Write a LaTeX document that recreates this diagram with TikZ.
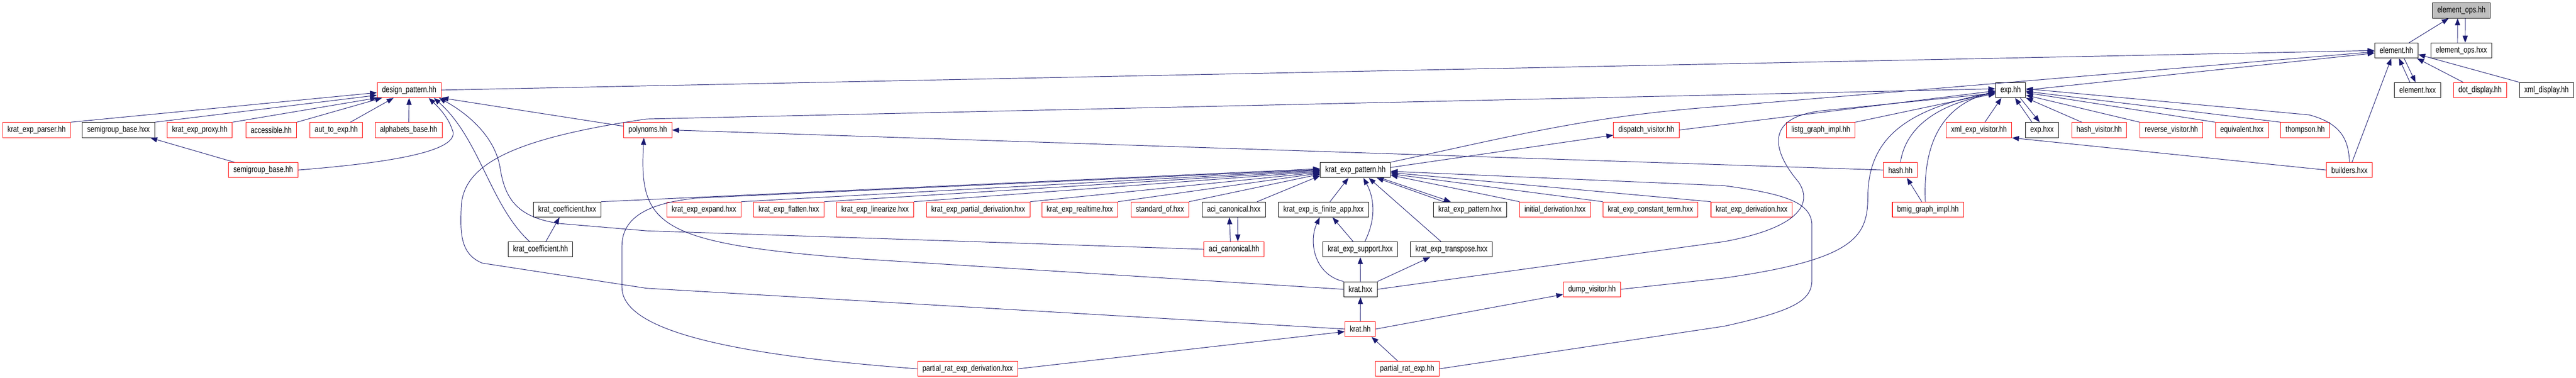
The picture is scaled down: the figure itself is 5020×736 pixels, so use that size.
\documentclass[tikz,border=0pt]{standalone}
\usepackage{fontspec}
\setmainfont{Liberation Sans}
\newfontfamily\filefont[FakeStretch=0.8]{Liberation Sans}
\usetikzlibrary{arrows.meta}
\definecolor{edgeblue}{HTML}{191970}
\tikzset{
  file/.style={draw=black, line width=0.6pt, rectangle, minimum height=0.59cm,
    inner xsep=0.19cm, inner ysep=0pt, font=\filefont\fontsize{9.4}{11}\selectfont},
  redfile/.style={file, draw=red},
  curfile/.style={file, fill=gray!50},
  inc/.style={draw=edgeblue, line width=0.55pt, -{Triangle[length=0.27cm,width=0.2cm]}}
}
\begin{document}
\begin{tikzpicture}[x=0.02cm, y=-0.02cm]
	\useasboundingbox (0,0) rectangle (5020,736);
	
	%rows 0-2
	\node[curfile] (eo) at (4796.7,20.5) {element\_ops.hh};
	\node[file] (eh) at (4670,98.5) {element.hh};
	\node[file] (eox) at (4796.5,98.5) {element\_ops.hxx};
	\node[redfile] (dp) at (797.5,175.6) {design\_pattern.hh};
	\node[file] (exp) at (3918.3,175.6) {exp.hh};
	\node[file] (ehx) at (4711.3,175.6) {element.hxx};
	\node[redfile] (dot) at (4833,175.6) {dot\_display.hh};
	\node[file] (xd) at (4962.5,175.6) {xml\_display.hh};
	
	%row 3
	\node[redfile] (kpar) at (71.3,253.5) {krat\_exp\_parser.hh};
	\node[file] (sgbx) at (231,253.5) {semigroup\_base.hxx};
	\node[redfile] (kpro) at (389.3,253.5) {krat\_exp\_proxy.hh};
	\node[redfile] (acc) at (528.5,253.5) {accessible.hh};
	\node[redfile] (a2e) at (655.3,253.5) {aut\_to\_exp.hh};
	\node[redfile] (alph) at (796.3,253.5) {alphabets\_base.hh};
	\node[redfile] (poly) at (1262.3,253.5) {polynoms.hh};
	\node[redfile] (disp) at (3208.3,253.5) {dispatch\_visitor.hh};
	\node[redfile] (lg) at (3548.3,253.5) {listg\_graph\_impl.hh};
	\node[redfile] (xev) at (3856.5,253.5) {xml\_exp\_visitor.hh};
	\node[file] (expx) at (3979.3,253.5) {exp.hxx};
	\node[redfile] (hv) at (4090.8,253.5) {hash\_visitor.hh};
	\node[redfile] (rv) at (4231.5,253.5) {reverse\_visitor.hh};
	\node[redfile] (eqv) at (4369,253.5) {equivalent.hxx};
	\node[redfile] (thom) at (4492.3,253.5) {thompson.hh};
	
	%row 4
	\node[redfile] (sgbh) at (513,331.5) {semigroup\_base.hh};
	\node[file] (kep) at (2641.3,331.5) {krat\_exp\_pattern.hh};
	\node[redfile] (hash) at (3703.5,331.5) {hash.hh};
	\node[redfile] (bld) at (4578.5,331.5) {builders.hxx};
	
	%row 5
	\node[file] (kcx) at (1105.3,408.5) {krat\_coefficient.hxx};
	\node[redfile] (kexp) at (1371.8,408.5) {krat\_exp\_expand.hxx};
	\node[redfile] (kfl) at (1537.3,408.5) {krat\_exp\_flatten.hxx};
	\node[redfile] (klin) at (1705.3,408.5) {krat\_exp\_linearize.hxx};
	\node[redfile] (kpd) at (1906.3,408.5) {krat\_exp\_partial\_derivation.hxx};
	\node[redfile] (krt) at (2104.3,408.5) {krat\_exp\_realtime.hxx};
	\node[redfile] (stdof) at (2260.3,408.5) {standard\_of.hxx};
	\node[file] (acix) at (2404.3,408.5) {aci\_canonical.hxx};
	\node[file] (kfin) at (2579.3,408.5) {krat\_exp\_is\_finite\_app.hxx};
	\node[file] (kepx) at (2864.7,408.5) {krat\_exp\_pattern.hxx};
	\node[redfile] (inid) at (3030.5,408.5) {initial\_derivation.hxx};
	\node[redfile] (kct) at (3216.3,408.5) {krat\_exp\_constant\_term.hxx};
	\node[redfile] (kder) at (3413.5,408.5) {krat\_exp\_derivation.hxx};
	\node[redfile] (bmig) at (3757,408.5) {bmig\_graph\_impl.hh};
	
	%rows 6-9
	\node[file] (kch) at (1053.3,486) {krat\_coefficient.hh};
	\node[redfile] (acih) at (2404.8,486) {aci\_canonical.hh};
	\node[file] (ksup) at (2650.8,486) {krat\_exp\_support.hxx};
	\node[file] (ktr) at (2828.5,486) {krat\_exp\_transpose.hxx};
	\node[file] (kx) at (2651.3,564) {krat.hxx};
	\node[redfile] (dump) at (3102.5,564) {dump\_visitor.hh};
	\node[redfile] (kh) at (2650.8,641.5) {krat.hh};
	\node[redfile] (prd) at (1885.8,719) {partial\_rat\_exp\_derivation.hxx};
	\node[redfile] (pre) at (2742.3,719) {partial\_rat\_exp.hh};
	
	%element_ops.hh
	\draw[inc] (eh) -- (eo);
	\draw[inc] ([xshift=-0.15cm]eox.north) -- ([xshift=-0.15cm]eo.south);
	\draw[inc] ([xshift=0.15cm]eo.south) -- ([xshift=0.15cm]eox.north);
	
	%element.hh
	\draw[inc] (dp.east) -- (eh.west);
	\draw[inc] (kep.north east) .. controls (2950,265) and (3100,225) .. (3360,207)
		-- ([yshift=-0.05cm]eh.west);
	\draw[inc] (exp.east) -- ([yshift=-0.1cm]eh.west);
	\draw[inc] ([xshift=0.1cm]bld.north) -- ([xshift=-0.2cm]eh.south);
	\draw[inc] ([xshift=-0.3cm]ehx.north) -- ([xshift=0.1cm]eh.south);
	\draw[inc] ([xshift=0.3cm]eh.south) -- ([xshift=-0.08cm]ehx.north);
	\draw[inc] ([xshift=-0.66cm]dot.north) -- ([xshift=-0.05cm]eh.south east);
	\draw[inc] (xd.north west) -- ([yshift=0.15cm]eh.south east);
	
	%design_pattern.hh
	\draw[inc] (kpar.north east) -- ([yshift=-0.1cm]dp.west);
	\draw[inc] (sgbx.north east) -- ([yshift=-0.2cm]dp.west);
	\draw[inc] (kpro.north east) -- (dp.south west);
	\draw[inc] (acc.north east) -- ([xshift=0.2cm]dp.south west);
	\draw[inc] ([xshift=0.55cm]a2e.north) -- ([xshift=0.65cm]dp.south west);
	\draw[inc] (alph) -- (dp);
	\draw[inc] (sgbh.east) .. controls (790,315) and (900,290) .. (881,252)
		.. controls (872,225) and (850,205) .. ([xshift=-0.5cm]dp.south east);
	\draw[inc] ([xshift=-0.43cm]kch.north) .. controls (955,400) and (935,270)
		.. ([xshift=-0.3cm]dp.south east);
	\draw[inc] (acih.west) -- (1260,450) -- (1093,436) .. controls (1010,425) and (985,390)
		.. (975,330) .. controls (965,260) and (900,215) .. ([xshift=-0.1cm]dp.south east);
	\draw[inc] ([yshift=0.15cm]poly.west) -- (dp.south east);
	\draw[inc] ([xshift=-1.13cm]sgbh.north) -- ([xshift=1.24cm]sgbx.south);
	
	%polynoms.hh
	\draw[inc] (hash.west) -- (poly.east);
	\draw[inc] (kx.west) -- (1680,505) .. controls (1280,475) and (1245,440)
		.. ([xshift=-0.15cm]poly.south);
	
	%exp.hh
	\draw[inc] (kh.west) -- (1260,562) -- (940,513) .. controls (895,495) and (897,450)
		.. (899,400) .. controls (905,320) and (1000,270) .. (1260,232)
		-- ([yshift=0.05cm]exp.west);
	\draw[inc] (disp.east) -- ([yshift=-0.03cm]exp.west);
	\draw[inc] (lg.north east) -- ([yshift=-0.1cm]exp.west);
	\draw[inc] (hash.north) .. controls (3715,240) and (3790,200) .. ([yshift=-0.15cm]exp.west);
	\draw[inc] ([xshift=-0.1cm]bmig.north) .. controls (3748,300) and (3770,210)
		.. ([yshift=-0.05cm]exp.west);
	\draw[inc] (kx.east) -- (3360,471) .. controls (3500,445) and (3535,400) .. (3505,355)
		.. controls (3450,290) and (3440,225) .. (3560,215) -- ([yshift=-0.12cm]exp.west);
	\draw[inc] (dump.east) -- (3360,542) .. controls (3620,505) and (3640,460) .. (3640,380)
		.. controls (3642,280) and (3700,215) .. ([yshift=-0.08cm]exp.west);
	\draw[inc] ([xshift=0.23cm]xev.north) -- ([xshift=-0.36cm]exp.south);
	\draw[inc] ([xshift=-0.39cm]expx.north) -- ([xshift=0.17cm]exp.south);
	\draw[inc] ([xshift=0.37cm]exp.south) -- ([xshift=-0.09cm]expx.north);
	\draw[inc] ([xshift=-0.68cm]hv.north) -- (exp.south east);
	\draw[inc] (rv.north west) -- ([yshift=-0.2cm]exp.east);
	\draw[inc] (eqv.north west) -- ([yshift=-0.1cm]exp.east);
	\draw[inc] (thom.north west) -- ([yshift=-0.05cm]exp.east);
	\draw[inc] (bld.north) .. controls (4577,270) and (4560,240) .. (4500,224)
		-- ([yshift=0.05cm]exp.east);
	\draw[inc] (bld.west) -- (xev.south east);
	\draw[inc] ([xshift=-0.24cm]bmig.north) -- ([xshift=0.25cm]hash.south);
	
	%krat_exp_pattern.hh
	\draw[inc] ([yshift=0.1cm]kep.east) -- ([yshift=-0.2cm]disp.west);
	\draw[inc] (kh.east) -- ([yshift=-0.2cm]dump.west);
	\draw[inc] (pre.east) -- (3360,636) .. controls (3500,605) and (3531,585) .. (3531,545)
		-- (3531,440) .. controls (3531,395) and (3480,378) .. (3360,362)
		-- ([yshift=-0.05cm]kep.east);
	\draw[inc] (kder.north west) -- ([yshift=-0.1cm]kep.east);
	\draw[inc] (kct.north west) -- ([yshift=-0.15cm]kep.east);
	\draw[inc] (inid.north west) -- ([yshift=-0.2cm]kep.east);
	\draw[inc] ([xshift=-1.03cm]kepx.north) -- ([xshift=0.83cm]kep.south);
	\draw[inc] ([xshift=0.97cm]kep.south) -- ([xshift=-0.75cm]kepx.north);
	\draw[inc] ([xshift=-0.41cm]ktr.north) -- ([xshift=0.52cm]kep.south);
	\draw[inc] ([xshift=0.18cm]ksup.north) .. controls (2685,420) and (2675,380)
		.. ([xshift=0.31cm]kep.south);
	\draw[inc] ([xshift=0.25cm]kfin.north) -- ([xshift=-0.27cm]kep.south);
	\draw[inc] (kcx.north east) -- ([yshift=0.05cm]kep.west);
	\draw[inc] (prd.west) .. controls (1400,690) and (1212,640) .. (1212,560) -- (1212,480)
		.. controls (1212,420) and (1270,395) .. (1360,386) -- ([yshift=0.02cm]kep.west);
	\draw[inc] (kexp.north east) -- (kep.west);
	\draw[inc] (kfl.north east) -- ([yshift=-0.03cm]kep.west);
	\draw[inc] (klin.north east) -- ([yshift=-0.06cm]kep.west);
	\draw[inc] (kpd.north east) -- ([yshift=-0.09cm]kep.west);
	\draw[inc] (krt.north east) -- ([yshift=-0.12cm]kep.west);
	\draw[inc] (stdof.north east) -- ([yshift=-0.16cm]kep.west);
	\draw[inc] ([xshift=0.91cm]acix.north) -- ([yshift=-0.22cm]kep.west);
	
	%lower rows
	\draw[inc] ([xshift=0.21cm]kch.north) -- ([xshift=-0.3cm]kcx.south);
	\draw[inc] ([xshift=-0.14cm]acih.north) -- ([xshift=-0.17cm]acix.south);
	\draw[inc] ([xshift=0.15cm]acix.south) -- ([xshift=0.15cm]acih.north);
	\draw[inc] ([xshift=-0.28cm]ksup.north) -- ([xshift=0.35cm]kfin.south);
	\draw[inc] (kx.north west) .. controls (2560,535) and (2550,470) .. ([xshift=-0.15cm]kfin.south);
	\draw[inc] (kx) -- (ksup);
	\draw[inc] (kx.north east) -- ([xshift=-0.83cm]ktr.south);
	\draw[inc] (kh) -- (kx);
	\draw[inc] ([xshift=-0.37cm]pre.north) -- ([xshift=0.44cm]kh.south);
	\draw[inc] (prd.east) -- ([yshift=-0.1cm]kh.west);
\end{tikzpicture}
\end{document}
